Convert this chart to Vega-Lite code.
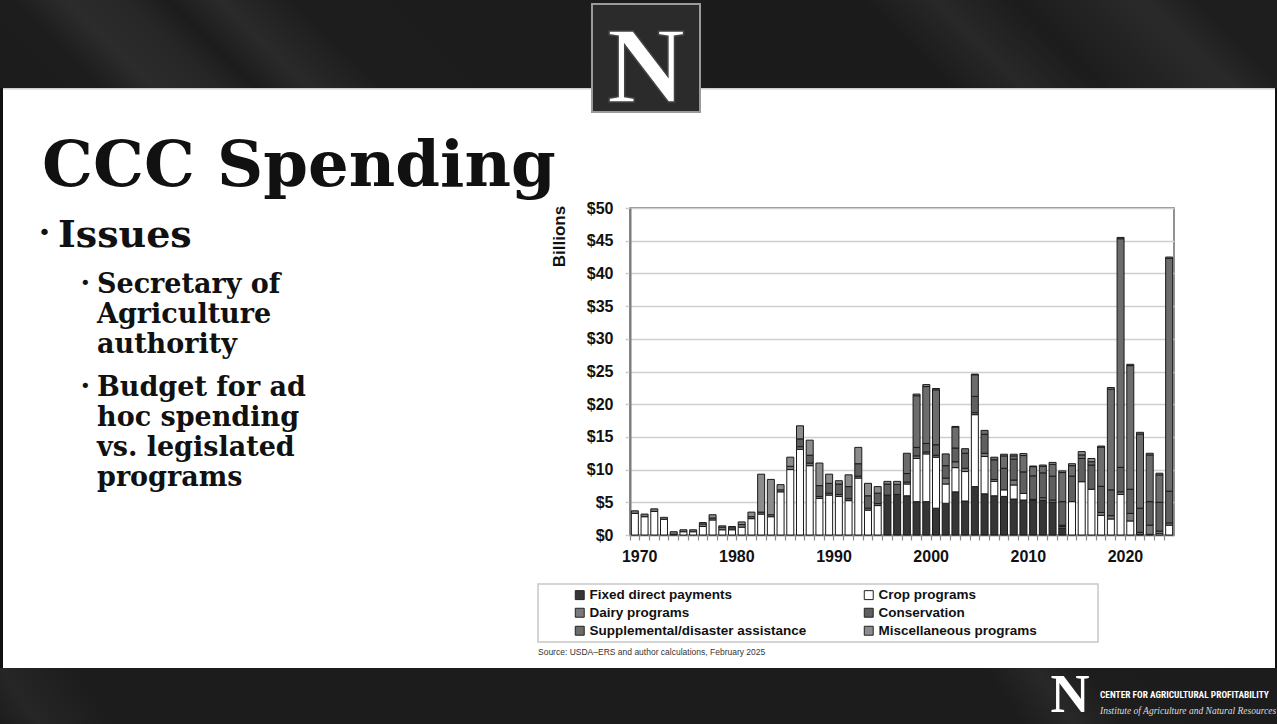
{
  "$schema": "https://vega.github.io/schema/vega-lite/v6.json",
  "width": 544,
  "height": 327,
  "autosize": "none",
  "padding": {"left": 630, "top": 208, "right": 103, "bottom": 189},
  "background": "#ffffff",
  "config": {"view": {"stroke": "#6e6e6e", "strokeWidth": 1.5}, "font": "Liberation Sans"},
  "layer": [
    {"data": {"values": [{}]}, "mark": {"type": "rect", "color": {"gradient": "linear", "x1": 0, "y1": 1, "x2": 1, "y2": 0.93, "stops": [{"offset": 0, "color": "#1c1c1c"}, {"offset": 0.08, "color": "#1d1d1d"}, {"offset": 0.12, "color": "#2c2c2c"}, {"offset": 0.17, "color": "#262626"}, {"offset": 0.2, "color": "#1c1c1c"}, {"offset": 0.24, "color": "#2a2a2a"}, {"offset": 0.3, "color": "#1d1d1d"}, {"offset": 0.74, "color": "#1b1b1b"}, {"offset": 0.8, "color": "#282828"}, {"offset": 0.86, "color": "#1c1c1c"}, {"offset": 0.96, "color": "#2a2a2a"}, {"offset": 1, "color": "#1e1e1e"}]}}, "encoding": {"x": {"value": -630}, "x2": {"value": 647}, "y": {"value": -208}, "y2": {"value": -120}}},
    {"data": {"values": [{}]}, "mark": {"type": "rect", "color": "#cfcfcf"}, "encoding": {"x": {"value": -630}, "x2": {"value": 647}, "y": {"value": -120}, "y2": {"value": -118.5}}},
    {"data": {"values": [{}]}, "mark": {"type": "rect", "color": {"gradient": "linear", "x1": 0, "y1": 1, "x2": 1, "y2": 0.97, "stops": [{"offset": 0, "color": "#1c1c1c"}, {"offset": 0.03, "color": "#262626"}, {"offset": 0.09, "color": "#1c1c1c"}, {"offset": 0.8, "color": "#1c1c1c"}, {"offset": 0.84, "color": "#282828"}, {"offset": 0.88, "color": "#1d1d1d"}, {"offset": 1, "color": "#1c1c1c"}]}}, "encoding": {"x": {"value": -630}, "x2": {"value": 647}, "y": {"value": 460}, "y2": {"value": 516}}},
    {"data": {"values": [{}]}, "mark": {"type": "rect", "color": "#111111"}, "encoding": {"x": {"value": -630}, "x2": {"value": -627}, "y": {"value": -120}, "y2": {"value": 460}}},
    {"data": {"values": [{}]}, "mark": {"type": "rect", "color": "#111111"}, "encoding": {"x": {"value": 645}, "x2": {"value": 647}, "y": {"value": -120}, "y2": {"value": 460}}},
    {"data": {"values": [{}]}, "mark": {"type": "rect", "color": "#2b2b2b", "stroke": "#9a9a9a", "strokeWidth": 2}, "encoding": {"x": {"value": -38}, "x2": {"value": 70}, "y": {"value": -204}, "y2": {"value": -96}}},
    {"data": {"values": [{}]}, "mark": {"type": "text", "text": "N", "font": "Liberation Serif", "fontWeight": "bold", "fontSize": 108, "align": "center", "baseline": "alphabetic", "color": "#ffffff", "stroke": "#444444", "strokeWidth": 1.5}, "encoding": {"x": {"value": 16}, "y": {"value": -106}}},
    {"data": {"values": [{}]}, "mark": {"type": "text", "text": "N", "font": "Liberation Serif", "fontWeight": "bold", "fontSize": 54, "align": "center", "baseline": "alphabetic", "color": "#ffffff"}, "encoding": {"x": {"value": 440}, "y": {"value": 504}}},
    {"data": {"values": [{}]}, "mark": {"type": "text", "text": "CENTER FOR AGRICULTURAL PROFITABILITY", "font": "Liberation Sans Narrow, Roboto Condensed, DejaVu Sans Condensed, Liberation Sans", "fontWeight": "bold", "fontSize": 9.4, "align": "left", "baseline": "alphabetic", "color": "#ffffff"}, "encoding": {"x": {"value": 470}, "y": {"value": 490}}},
    {"data": {"values": [{}]}, "mark": {"type": "text", "text": "Institute of Agriculture and Natural Resources", "font": "Liberation Serif", "fontStyle": "italic", "fontSize": 9.5, "align": "left", "baseline": "alphabetic", "color": "#dddddd"}, "encoding": {"x": {"value": 470}, "y": {"value": 506}}},
    {"data": {"values": [{}]}, "mark": {"type": "text", "text": "CCC Spending", "font": "DejaVu Serif", "fontWeight": "bold", "fontSize": 64, "align": "left", "baseline": "alphabetic", "color": "#111111"}, "encoding": {"x": {"value": -588}, "y": {"value": -22}}},
    {"data": {"values": [{}]}, "mark": {"type": "text", "text": "•", "font": "DejaVu Sans", "fontSize": 22, "align": "left", "baseline": "alphabetic", "color": "#111111"}, "encoding": {"x": {"value": -592}, "y": {"value": 32}}},
    {"data": {"values": [{}]}, "mark": {"type": "text", "text": "Issues", "font": "DejaVu Serif", "fontWeight": "bold", "fontSize": 38, "align": "left", "baseline": "alphabetic", "color": "#111111"}, "encoding": {"x": {"value": -572}, "y": {"value": 39}}},
    {"data": {"values": [{}]}, "mark": {"type": "text", "text": "•", "font": "DejaVu Sans", "fontSize": 18, "align": "left", "baseline": "alphabetic", "color": "#111111"}, "encoding": {"x": {"value": -550}, "y": {"value": 81}}},
    {"data": {"values": [{}]}, "mark": {"type": "text", "text": "•", "font": "DejaVu Sans", "fontSize": 18, "align": "left", "baseline": "alphabetic", "color": "#111111"}, "encoding": {"x": {"value": -550}, "y": {"value": 184}}},
    {"data": {"values": [{}]}, "mark": {"type": "text", "text": ["Secretary of", "Agriculture", "authority"], "lineHeight": 30, "font": "DejaVu Serif", "fontWeight": "bold", "fontSize": 27, "align": "left", "baseline": "alphabetic", "color": "#111111"}, "encoding": {"x": {"value": -533}, "y": {"value": 85}}},
    {"data": {"values": [{}]}, "mark": {"type": "text", "text": ["Budget for ad", "hoc spending", "vs. legislated", "programs"], "lineHeight": 30, "font": "DejaVu Serif", "fontWeight": "bold", "fontSize": 27, "align": "left", "baseline": "alphabetic", "color": "#111111"}, "encoding": {"x": {"value": -533}, "y": {"value": 188}}},
    {"data": {"values": [{}]}, "mark": {"type": "rect", "fill": "#ffffff", "stroke": "#c8c8c8", "strokeWidth": 1.5}, "encoding": {"x": {"value": -92}, "x2": {"value": 468}, "y": {"value": 376}, "y2": {"value": 434}}},
    {"data": {"values": [{}]}, "mark": {"type": "text", "text": "Source: USDA–ERS and author calculations, February 2025", "font": "Liberation Sans", "fontSize": 8.5, "align": "left", "baseline": "alphabetic", "color": "#333333"}, "encoding": {"x": {"value": -92}, "y": {"value": 447}}},
    {
      "data": {"values": [
        {"year":1970,"a_fixed":0,"b_crop":3.3,"c_dairy":0.4,"d_cons":0,"e_supp":0,"f_misc":0},
        {"year":1971,"a_fixed":0,"b_crop":2.8,"c_dairy":0.4,"d_cons":0,"e_supp":0,"f_misc":0},
        {"year":1972,"a_fixed":0,"b_crop":3.6,"c_dairy":0.4,"d_cons":0,"e_supp":0,"f_misc":0},
        {"year":1973,"a_fixed":0,"b_crop":2.4,"c_dairy":0.3,"d_cons":0,"e_supp":0,"f_misc":0},
        {"year":1974,"a_fixed":0,"b_crop":0.1,"c_dairy":0.4,"d_cons":0,"e_supp":0,"f_misc":0},
        {"year":1975,"a_fixed":0,"b_crop":0.5,"c_dairy":0.3,"d_cons":0,"e_supp":0,"f_misc":0},
        {"year":1976,"a_fixed":0,"b_crop":0.5,"c_dairy":0.3,"d_cons":0,"e_supp":0,"f_misc":0},
        {"year":1977,"a_fixed":0,"b_crop":1.3,"c_dairy":0.4,"d_cons":0,"e_supp":0,"f_misc":0.2},
        {"year":1978,"a_fixed":0,"b_crop":2.3,"c_dairy":0.3,"d_cons":0,"e_supp":0,"f_misc":0.5},
        {"year":1979,"a_fixed":0,"b_crop":0.8,"c_dairy":0.4,"d_cons":0,"e_supp":0,"f_misc":0.2},
        {"year":1980,"a_fixed":0,"b_crop":0.8,"c_dairy":0.3,"d_cons":0,"e_supp":0,"f_misc":0.2},
        {"year":1981,"a_fixed":0,"b_crop":1.2,"c_dairy":0.4,"d_cons":0,"e_supp":0,"f_misc":0.4},
        {"year":1982,"a_fixed":0,"b_crop":2.5,"c_dairy":0.3,"d_cons":0,"e_supp":0,"f_misc":0.7},
        {"year":1983,"a_fixed":0,"b_crop":3.2,"c_dairy":0.3,"d_cons":0,"e_supp":0,"f_misc":5.8},
        {"year":1984,"a_fixed":0,"b_crop":2.8,"c_dairy":0.3,"d_cons":0,"e_supp":0,"f_misc":5.4},
        {"year":1985,"a_fixed":0,"b_crop":6.6,"c_dairy":0.3,"d_cons":0,"e_supp":0,"f_misc":0.8},
        {"year":1986,"a_fixed":0,"b_crop":10.0,"c_dairy":0.5,"d_cons":0,"e_supp":0,"f_misc":1.4},
        {"year":1987,"a_fixed":0,"b_crop":13.1,"c_dairy":0.4,"d_cons":1.2,"e_supp":0,"f_misc":2.0},
        {"year":1988,"a_fixed":0,"b_crop":10.6,"c_dairy":0.4,"d_cons":1.2,"e_supp":0,"f_misc":2.3},
        {"year":1989,"a_fixed":0,"b_crop":5.6,"c_dairy":0.3,"d_cons":1.65,"e_supp":0,"f_misc":3.45},
        {"year":1990,"a_fixed":0,"b_crop":6.1,"c_dairy":0.3,"d_cons":1.5,"e_supp":0,"f_misc":1.4},
        {"year":1991,"a_fixed":0,"b_crop":5.9,"c_dairy":0.3,"d_cons":1.6,"e_supp":0,"f_misc":0.5},
        {"year":1992,"a_fixed":0,"b_crop":5.25,"c_dairy":0.3,"d_cons":1.85,"e_supp":0,"f_misc":1.8},
        {"year":1993,"a_fixed":0,"b_crop":8.7,"c_dairy":0.3,"d_cons":1.9,"e_supp":0,"f_misc":2.5},
        {"year":1994,"a_fixed":0,"b_crop":3.8,"c_dairy":0.3,"d_cons":1.9,"e_supp":0,"f_misc":1.9},
        {"year":1995,"a_fixed":0,"b_crop":4.5,"c_dairy":0.3,"d_cons":1.6,"e_supp":0,"f_misc":1.0},
        {"year":1996,"a_fixed":6.1,"b_crop":0,"c_dairy":0,"d_cons":1.7,"e_supp":0,"f_misc":0.4},
        {"year":1997,"a_fixed":6.2,"b_crop":0,"c_dairy":0,"d_cons":1.55,"e_supp":0,"f_misc":0.45},
        {"year":1998,"a_fixed":6.0,"b_crop":1.8,"c_dairy":0.3,"d_cons":1.3,"e_supp":3.1,"f_misc":0},
        {"year":1999,"a_fixed":5.1,"b_crop":6.6,"c_dairy":0.4,"d_cons":1.3,"e_supp":7.9,"f_misc":0.25},
        {"year":2000,"a_fixed":5.1,"b_crop":7.3,"c_dairy":0.3,"d_cons":1.3,"e_supp":8.7,"f_misc":0.3},
        {"year":2001,"a_fixed":4.1,"b_crop":7.8,"c_dairy":0.3,"d_cons":1.6,"e_supp":8.4,"f_misc":0.2},
        {"year":2002,"a_fixed":4.85,"b_crop":2.95,"c_dairy":0.9,"d_cons":1.9,"e_supp":1.8,"f_misc":0},
        {"year":2003,"a_fixed":6.6,"b_crop":3.7,"c_dairy":0.9,"d_cons":2.1,"e_supp":3.2,"f_misc":0.1},
        {"year":2004,"a_fixed":5.2,"b_crop":4.5,"c_dairy":0.5,"d_cons":2.3,"e_supp":0.7,"f_misc":0},
        {"year":2005,"a_fixed":7.4,"b_crop":11.0,"c_dairy":0.3,"d_cons":2.5,"e_supp":3.3,"f_misc":0.1},
        {"year":2006,"a_fixed":6.3,"b_crop":5.7,"c_dairy":0.5,"d_cons":2.9,"e_supp":0.6,"f_misc":0},
        {"year":2007,"a_fixed":6.0,"b_crop":2.2,"c_dairy":0.3,"d_cons":3.0,"e_supp":0.4,"f_misc":0},
        {"year":2008,"a_fixed":5.9,"b_crop":1.0,"c_dairy":0,"d_cons":3.3,"e_supp":1.9,"f_misc":0.25},
        {"year":2009,"a_fixed":5.5,"b_crop":2.15,"c_dairy":0.75,"d_cons":3.2,"e_supp":0.5,"f_misc":0.25},
        {"year":2010,"a_fixed":5.35,"b_crop":1.0,"c_dairy":0,"d_cons":3.3,"e_supp":2.5,"f_misc":0.3},
        {"year":2011,"a_fixed":5.35,"b_crop":0,"c_dairy":0.1,"d_cons":3.6,"e_supp":1.4,"f_misc":0.1},
        {"year":2012,"a_fixed":5.3,"b_crop":0,"c_dairy":0.4,"d_cons":3.8,"e_supp":1.0,"f_misc":0.2},
        {"year":2013,"a_fixed":5.0,"b_crop":0,"c_dairy":0.35,"d_cons":3.65,"e_supp":1.8,"f_misc":0.3},
        {"year":2014,"a_fixed":1.1,"b_crop":0.2,"c_dairy":0.2,"d_cons":3.6,"e_supp":4.45,"f_misc":0.25},
        {"year":2015,"a_fixed":0,"b_crop":5.1,"c_dairy":0,"d_cons":3.9,"e_supp":1.6,"f_misc":0.3},
        {"year":2016,"a_fixed":0,"b_crop":8.15,"c_dairy":0,"d_cons":3.55,"e_supp":0.55,"f_misc":0.5},
        {"year":2017,"a_fixed":0,"b_crop":7.0,"c_dairy":0,"d_cons":3.7,"e_supp":0.5,"f_misc":0.5},
        {"year":2018,"a_fixed":0,"b_crop":3.0,"c_dairy":0.45,"d_cons":4.0,"e_supp":6.0,"f_misc":0.15},
        {"year":2019,"a_fixed":0,"b_crop":2.45,"c_dairy":0.5,"d_cons":3.95,"e_supp":15.4,"f_misc":0.25},
        {"year":2020,"a_fixed":0,"b_crop":6.2,"c_dairy":0.4,"d_cons":3.75,"e_supp":34.95,"f_misc":0.2},
        {"year":2021,"a_fixed":0,"b_crop":2.15,"c_dairy":1.15,"d_cons":3.7,"e_supp":18.9,"f_misc":0.2},
        {"year":2022,"a_fixed":0,"b_crop":0.1,"c_dairy":0.3,"d_cons":3.7,"e_supp":11.35,"f_misc":0.25},
        {"year":2023,"a_fixed":0,"b_crop":0.1,"c_dairy":1.4,"d_cons":3.6,"e_supp":7.15,"f_misc":0.25},
        {"year":2024,"a_fixed":0,"b_crop":0.2,"c_dairy":0.4,"d_cons":4.4,"e_supp":4.2,"f_misc":0.25},
        {"year":2025,"a_fixed":0,"b_crop":1.5,"c_dairy":0.35,"d_cons":4.85,"e_supp":35.6,"f_misc":0.2}
      ]},
      "transform": [
        {"fold": ["a_fixed", "b_crop", "c_dairy", "d_cons", "e_supp", "f_misc"], "as": ["program", "billions"]},
        {"filter": "datum.billions > 0"}
      ],
      "mark": {"type": "bar", "width": {"band": 0.72}, "stroke": "#1a1a1a", "strokeWidth": 1},
      "encoding": {
        "x": {
          "field": "year", "type": "ordinal",
          "scale": {"paddingInner": 0, "paddingOuter": 0},
          "axis": {
            "title": null, "bandPosition": 0, "labelOffset": 4.86, "labelAngle": 0,
            "labelExpr": "datum.value % 10 === 0 ? datum.label : ''",
            "labelOverlap": false, "labelFontSize": 16, "labelFontWeight": "bold", "labelColor": "#111111",
            "labelPadding": 8, "tickSize": 5, "tickColor": "#8a8a8a", "tickWidth": 1.2,
            "domainColor": "#7a7a7a", "domainWidth": 1.5, "grid": false
          }
        },
        "y": {
          "field": "billions", "type": "quantitative", "aggregate": "sum", "stack": "zero",
          "scale": {"domain": [0, 50], "nice": false},
          "axis": {
            "title": "Billions", "titleFontSize": 17, "titleFontWeight": "bold", "titleColor": "#111111",
            "titleAngle": -90, "titleX": -66, "titleY": 28, "titleAlign": "center", "titleBaseline": "alphabetic",
            "values": [0, 5, 10, 15, 20, 25, 30, 35, 40, 45, 50],
            "labelExpr": "'$' + datum.value", "labelFontSize": 16, "labelFontWeight": "bold", "labelColor": "#111111",
            "labelPadding": 12, "tickSize": 5, "tickColor": "#cfcfcf", "tickWidth": 1.5,
            "grid": true, "gridColor": "#cfcfcf", "gridWidth": 1.5,
            "domainColor": "#7a7a7a", "domainWidth": 2
          }
        },
        "order": {"field": "program", "sort": "ascending"},
        "color": {
          "field": "program", "type": "nominal",
          "sort": ["a_fixed", "b_crop", "c_dairy", "d_cons", "e_supp", "f_misc"],
          "scale": {
            "domain": ["a_fixed", "b_crop", "c_dairy", "d_cons", "e_supp", "f_misc"],
            "range": ["#353535", "#ffffff", "#7a7a7a", "#5f5f5f", "#6c6c6c", "#8c8c8c"]
          },
          "legend": {
            "orient": "none", "legendX": -57, "legendY": 380, "direction": "horizontal", "columns": 2,
            "title": null, "padding": 0, "columnPadding": 55, "rowPadding": 3,
            "symbolType": "square", "symbolSize": 80, "symbolStrokeColor": "#222222", "symbolStrokeWidth": 1,
            "labelFont": "Liberation Sans", "labelFontSize": 13.5, "labelFontWeight": "bold", "labelColor": "#111111",
            "labelOffset": 3, "labelLimit": 400,
            "labelExpr": "datum.label === 'a_fixed' ? 'Fixed direct payments' : datum.label === 'b_crop' ? 'Crop programs' : datum.label === 'c_dairy' ? 'Dairy programs' : datum.label === 'd_cons' ? 'Conservation' : datum.label === 'e_supp' ? 'Supplemental/disaster assistance' : 'Miscellaneous programs'"
          }
        }
      }
    }
  ]
}
